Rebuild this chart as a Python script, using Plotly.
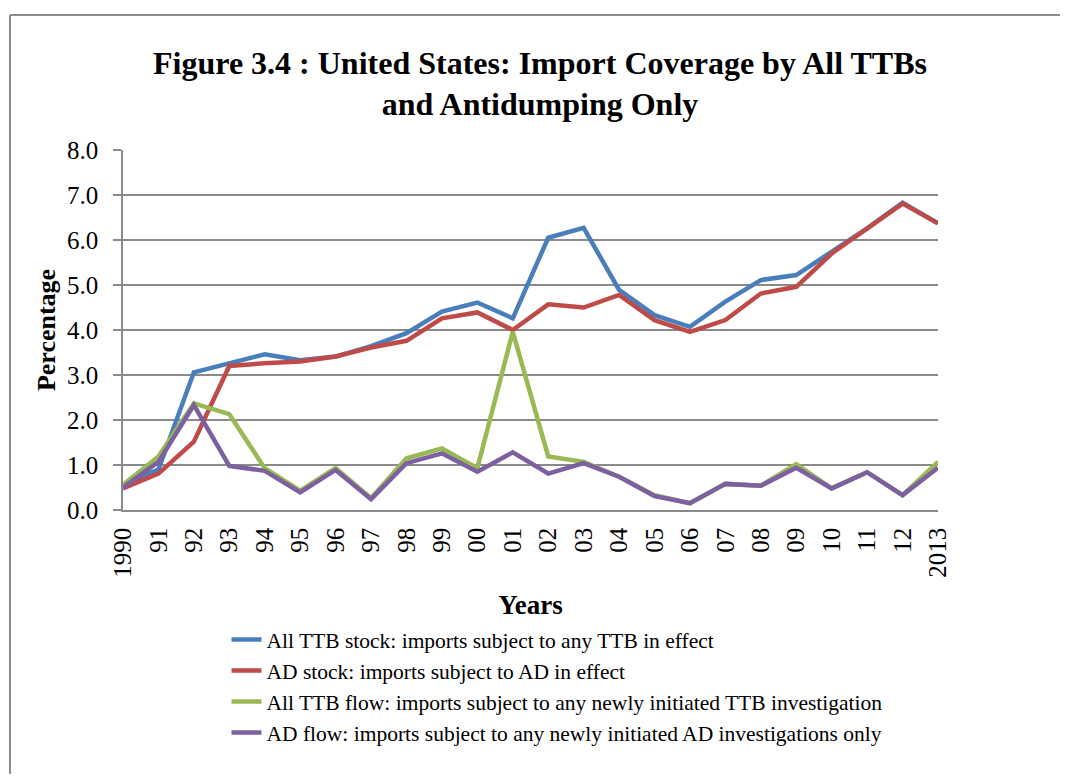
import plotly.graph_objects as go

years = ["1990", "91", "92", "93", "94", "95", "96", "97", "98", "99", "00", "01",
         "02", "03", "04", "05", "06", "07", "08", "09", "10", "11", "12", "2013"]

ttb_stock = [0.56, 0.90, 3.06, 3.27, 3.46, 3.33, 3.41, 3.64, 3.93, 4.41, 4.61, 4.26,
             6.05, 6.27, 4.89, 4.33, 4.07, 4.63, 5.11, 5.22, 5.74, 6.26, 6.83, 6.37]
ad_stock = [0.48, 0.81, 1.52, 3.20, 3.26, 3.30, 3.41, 3.61, 3.76, 4.26, 4.39, 4.00,
            4.57, 4.50, 4.78, 4.22, 3.96, 4.22, 4.81, 4.96, 5.70, 6.26, 6.81, 6.37]
ttb_flow = [0.56, 1.19, 2.37, 2.13, 0.93, 0.43, 0.93, 0.26, 1.15, 1.37, 0.93, 3.96,
            1.19, 1.07, 0.74, 0.33, 0.15, 0.58, 0.54, 1.02, 0.48, 0.84, 0.33, 1.07]
ad_flow = [0.50, 1.07, 2.33, 0.98, 0.87, 0.39, 0.89, 0.24, 1.04, 1.26, 0.85, 1.28,
           0.81, 1.04, 0.74, 0.31, 0.15, 0.58, 0.54, 0.94, 0.48, 0.84, 0.33, 0.94]

series = [
    ("All TTB stock: imports subject to any TTB in effect", ttb_stock, "#4A7EBB"),
    ("AD stock: imports subject to AD in effect", ad_stock, "#BE4B48"),
    ("All TTB flow: imports subject to any newly initiated TTB investigation", ttb_flow, "#98B954"),
    ("AD flow: imports subject to any newly initiated AD investigations only", ad_flow, "#7D60A0"),
]

FONT = "Liberation Serif, Times New Roman, serif"
GRID = "#8A8A8A"

fig = go.Figure()
for name, vals, color in series:
    fig.add_trace(go.Scatter(x=years, y=vals, name=name, mode="lines",
                             line=dict(color=color, width=4.5)))

# page body has an 8px margin all round, so the figure is sized to fit inside it
fig.update_layout(
    width=1052, height=766,
    margin=dict(l=115, r=122, t=142, b=264),
    paper_bgcolor="white", plot_bgcolor="white",
    font=dict(family=FONT, color="black", size=20),
    title=dict(text="<b>Figure 3.4 : United States: Import Coverage by All TTBs<br>and Antidumping Only</b>",
               x=0.5057, xanchor="center", y=0.914, yanchor="top",
               font=dict(family=FONT, size=32, color="black")),
    legend=dict(x=0.127, y=-0.303, xanchor="left", yanchor="top",
                font=dict(family=FONT, size=21.5, color="black"),
                bgcolor="rgba(0,0,0,0)", tracegroupgap=0),
    showlegend=True,
)

fig.update_xaxes(
    type="category", tickangle=-90, showgrid=False,
    showline=True, linecolor=GRID, linewidth=1.5,
    ticks="", ticklabelstandoff=6, tickfont=dict(family=FONT, size=25),
    title=dict(text="<b>Years</b>", font=dict(family=FONT, size=27), standoff=18),
)
fig.update_yaxes(
    range=[0, 8], dtick=1, tickformat=".1f",
    showgrid=True, gridcolor=GRID, gridwidth=1.5,
    showline=True, linecolor=GRID, linewidth=1.5,
    ticks="outside", ticklen=8, tickcolor=GRID, tickwidth=1.5,
    ticklabelstandoff=10, tickfont=dict(family=FONT, size=25), zeroline=False,
    title=dict(text="<b>Percentage</b>", font=dict(family=FONT, size=26), standoff=4),
)

# outer chart frame: only its left and top edges fall inside the page
frame = dict(type="line", xref="paper", yref="paper", layer="below",
             line=dict(color="#8C8C8C", width=2))
fig.add_shape(x0=-0.1387, x1=-0.1387, y0=-1.0, y1=1.375, **frame)
fig.add_shape(x0=-0.1387, x1=1.2, y0=1.375, y1=1.375, **frame)

fig.write_html("out.html", config={"displayModeBar": False})
